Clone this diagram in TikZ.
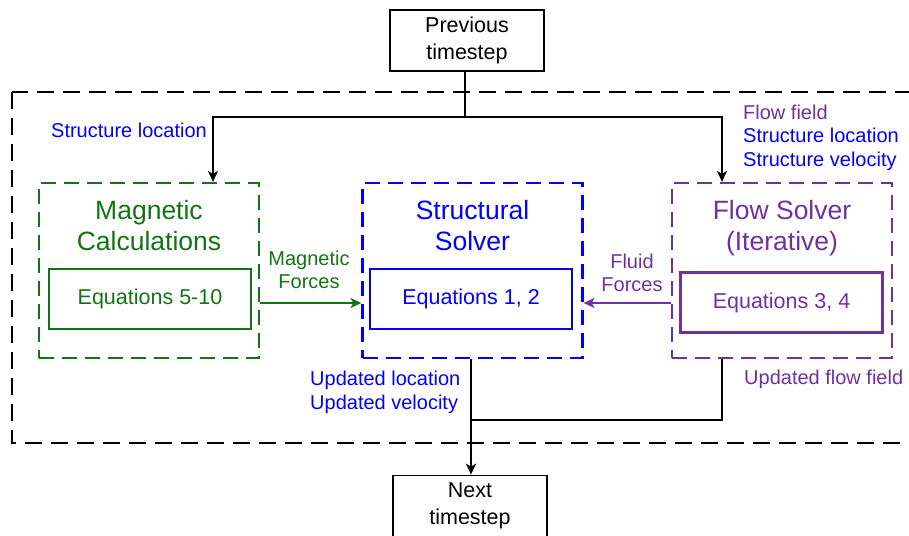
\documentclass[tikz,border=0pt]{standalone}
\usepackage{fontspec}
\setmainfont{Liberation Sans}
\usetikzlibrary{arrows.meta}
\definecolor{mgreen}{RGB}{20,115,20}
\definecolor{mblue}{RGB}{0,0,255}
\definecolor{mpurp}{RGB}{112,48,160}
\tikzset{
  plainbox/.style={draw=black, line width=1.8pt, minimum width=154pt, minimum height=61pt, inner sep=0pt, align=center, font=\fontsize{21.5}{27.5}\selectfont},
  groupbox/.style={draw=#1, line width=2.2pt, dash pattern=on 15pt off 8pt, minimum width=220pt, minimum height=175pt, inner sep=0pt},
  eqbox/.style={draw=#1, text=#1, line width=2.2pt, minimum width=202pt, minimum height=60pt, inner sep=0pt, font=\fontsize{21.5}{26}\selectfont},
  title/.style={text=#1, align=center, anchor=north, inner sep=0pt, font=\fontsize{26.5}{31}\selectfont},
  lbl/.style={inner sep=0pt, font=\fontsize{20}{23.5}\selectfont},
  conn/.style={line width=1.8pt},
  arr/.style={line width=1.8pt, -{Stealth[length=11pt,width=10pt,inset=3pt]}},
}
\begin{document}
\begin{tikzpicture}[x=1pt,y=-1pt]
\useasboundingbox (0,0) rectangle (909,535);
% outer dashed frame
\draw[line width=2.6pt, dash pattern=on 17pt off 9pt] (12,92) rectangle (930,443);

% top and bottom boxes
\node[plainbox] (prev) at (467,40.5) {Previous\\timestep};
\node[plainbox] (next) at (470,506) {Next\\timestep};

% group boxes
\node[groupbox=mgreen] (mag) at (149,270.5) {};
\node[groupbox=mblue] (str) at (472.5,270.5) {};
\node[groupbox=mpurp] (flow) at (782,270.5) {};

\node[title=mgreen] (magt) at (149,200) {Magnetic\\Calculations};
\node[title=mblue] (strt) at (472.5,200) {Structural\\Solver};
\node[title=mpurp] (flowt) at (782,200) {Flow Solver\\(Iterative)};

\node[eqbox=mgreen] (mageq) at (150,299) {Equations 5-10};
\node[eqbox=mblue] (streq) at (471,299) {Equations 1, 2};
\node[eqbox=mpurp] (floweq) at (781.5,302.5) {Equations 3, 4};

% top connectors
\coordinate (jtop) at (465,117);
\draw[conn] (prev.south -| jtop) -- (jtop);
\draw[arr] (jtop) -| ([xshift=64pt]mag.north);
\draw[arr] (jtop) -| ([xshift=-60pt]flow.north);

% force arrows
\draw[arr, mgreen] ([yshift=-32.5pt]mag.east) -- ([yshift=-32.5pt]str.west);
\draw[arr, mpurp] ([yshift=-32.5pt]flow.west) -- ([yshift=-32.5pt]str.east);

% bottom connectors
\coordinate (jbot) at (471,420);
\draw[conn] ([xshift=-60pt]flow.south) |- (jbot);
\draw[arr] (str.south -| jbot) -- (next.north -| jbot);

% labels
\node[lbl, text=mblue, anchor=east] (lsl) at (207,130) {Structure location};
\node[lbl, anchor=west, align=left] (lff) at (743,137.5) {\textcolor{mpurp}{Flow field}\\\textcolor{mblue}{Structure location}\\\textcolor{mblue}{Structure velocity}};
\node[lbl, text=mgreen, align=center] (lmf) at (309,270) {Magnetic\\Forces};
\node[lbl, text=mpurp, align=center] (lfl) at (632,273) {Fluid\\Forces};
\node[lbl, text=mblue, anchor=west, align=left] (lup) at (310,392.5) {Updated location\\Updated velocity};
\node[lbl, text=mpurp, anchor=west] (luf) at (744,379) {Updated flow field};
\end{tikzpicture}
\end{document}
